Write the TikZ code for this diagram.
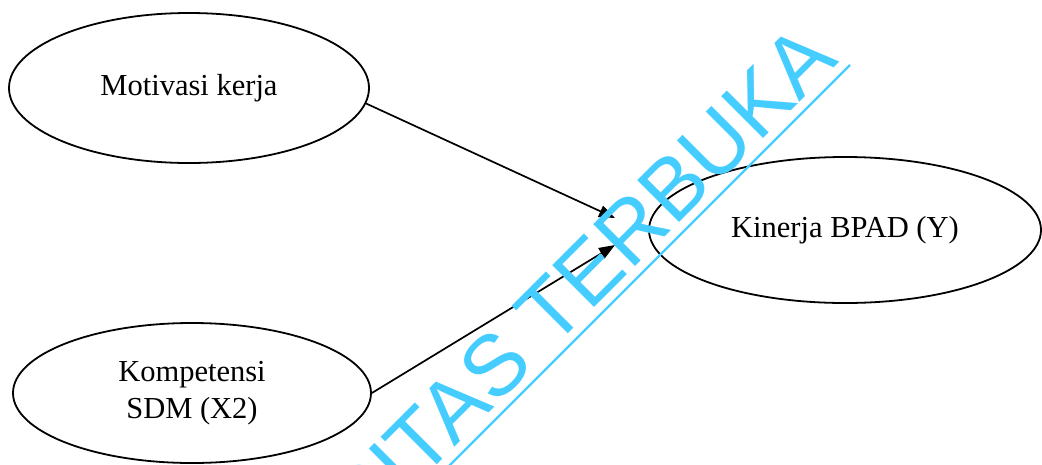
\documentclass[tikz,border=0pt]{standalone}
\usepackage{fontspec}
\setmainfont{Liberation Serif}
\newfontfamily\wmfont{Liberation Sans}
\usetikzlibrary{arrows.meta,shapes.geometric}
\definecolor{wmblue}{HTML}{45CDFF}
\begin{document}
\begin{tikzpicture}[x=1pt,y=-1pt,
  var/.style={draw, ellipse, line width=1.8pt, inner sep=0pt, font=\fontsize{30.5}{36.5}\selectfont, align=center},
  arr/.style={line width=1.7pt, -{Triangle[length=16pt,width=12pt]}},
  wmtext/.style={text=wmblue, font=\wmfont\fontsize{86}{90}\selectfont, inner sep=0pt, rotate=45, anchor=base east},
  wmline/.style={draw=wmblue, line width=2.2pt}]
\useasboundingbox (0,0) rectangle (1042,464);
\clip (0,0) rectangle (1042,464);
\node[var, minimum width=360pt, minimum height=150pt] (A) at (189,88) {Motivasi kerja};
\node[var, minimum width=358pt, minimum height=140pt] (B) at (192,393) {Kompetensi\\SDM (X2)};
\node[var, minimum width=392pt, minimum height=146pt] (C) at (845,230) {Kinerja BPAD (Y)};
\coordinate (t1) at (615,218);
\coordinate (t2) at (615,245);
\draw[arr] (A.-5) -- (t1);
\draw[arr] (B.east) -- (t2);
\node[wmtext] (wm) at (840,62) {UNIVERSITAS TERBUKA};
\coordinate (u1) at (850,65);
\coordinate (u2) at (300,615);
\draw[wmline] (u1) -- (u2);
\end{tikzpicture}
\end{document}
